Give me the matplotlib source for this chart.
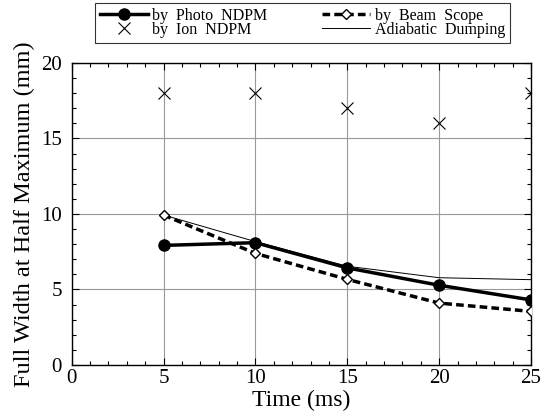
import matplotlib
matplotlib.use("Agg")
import matplotlib.pyplot as plt
from matplotlib.ticker import MultipleLocator

plt.rcParams['font.family'] = ['Liberation Serif', 'DejaVu Serif']

time_ms = [5, 10, 15, 20, 25]
photo_ndpm = [7.92, 8.1, 6.43, 5.28, 4.31]
beam_scope = [9.93, 7.39, 5.67, 4.1, 3.55]
ion_ndpm = [18, 18, 17, 16, 18]
adiabatic = [9.93, 8.17, 6.54, 5.78, 5.65]

labels = ["by  Photo  NDPM", "by  Beam  Scope", "by  Ion  NDPM", "Adiabatic  Dumping"]
xticks = [0, 5, 10, 15, 20, 25]
yticks = [0, 5, 10, 15, 20]

fig = plt.figure(figsize=(5.41, 4.19), dpi=100)
ax = fig.add_axes([0.1325, 0.1289, 0.849, 0.7208])

h_photo, = ax.plot(time_ms, photo_ndpm, '-', color='black', lw=2.5,
                   marker='o', ms=8, mfc='black', mec='black', zorder=4)
h_beam, = ax.plot(time_ms, beam_scope, '--', color='black', lw=2.5,
                  marker='D', ms=5.5, mfc='white', mec='black', mew=1.0,
                  dashes=(2.2, 1.2), zorder=4)
h_ion, = ax.plot(time_ms, ion_ndpm, linestyle='none', color='black',
                 marker='x', ms=8, mew=0.8, zorder=4)
h_adi, = ax.plot(time_ms, adiabatic, '-', color='black', lw=0.7, zorder=3)

ax.set_xlim(0, 25)
ax.set_ylim(0, 20)
ax.set_xticks(xticks)
ax.set_yticks(yticks)
ax.xaxis.set_minor_locator(MultipleLocator(1))
ax.yaxis.set_minor_locator(MultipleLocator(1))
ax.tick_params(which='both', direction='in', top=True, right=True,
               labelsize=15, width=0.8, color='black')
ax.tick_params(which='major', length=5)
ax.tick_params(which='minor', length=3)
ax.tick_params(axis='y', pad=7)
ax.tick_params(axis='x', pad=3)
ax.grid(True, which='major', color='#999999', lw=0.8)
for s in ax.spines.values():
    s.set_linewidth(1.0)

ax.set_xlabel("Time (ms)", fontsize=17, labelpad=1)
ax.set_ylabel("Full Width at Half Maximum (mm)", fontsize=17.5, labelpad=4)

leg = fig.legend([h_photo, h_ion, h_beam, h_adi],
                 [labels[0], labels[2], labels[1], labels[3]],
                 ncol=2, loc='upper left',
                 bbox_to_anchor=(0.1756, 0.993, 0.7671, 0.0), mode='expand',
                 fontsize=11.5, frameon=True, fancybox=False, edgecolor='black',
                 handlelength=3.0, handletextpad=0.3, labelspacing=-0.12,
                 borderpad=0.3, numpoints=1, borderaxespad=0)
leg.get_frame().set_linewidth(0.8)

fig.savefig("out.png", dpi=100)
